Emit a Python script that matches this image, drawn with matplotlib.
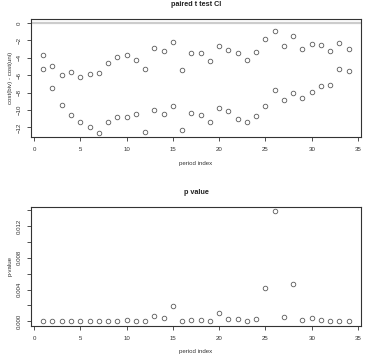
import numpy as np
import matplotlib
matplotlib.use('Agg')
from matplotlib import pyplot as plt
from matplotlib.ticker import FuncFormatter

plt.rcParams['font.family'] = ['Liberation Sans', 'DejaVu Sans']

#%% Data
period = np.arange(1, 35)
ci_upper = [-3.62, -4.99, -5.94, -5.64, -6.17, -5.90, -5.79, -4.65, -3.96, -3.62,
            -4.23, -5.33, -2.82, -3.20, -2.21, -5.41, -3.39, -3.43, -4.42, -2.59,
            -3.12, -3.47, -4.23, -3.35, -1.83, -0.88, -2.59, -1.49, -2.97, -2.44,
            -2.51, -3.16, -2.25, -2.97]
ci_lower = [-5.26, -7.43, -9.45, -10.63, -11.39, -12.00, -12.61, -11.43, -10.78, -10.86,
            -10.51, -12.53, -10.02, -10.48, -9.60, -12.30, -10.40, -10.59, -11.39, -9.79,
            -10.13, -11.01, -11.39, -10.74, -9.60, -7.70, -8.80, -8.00, -8.65, -7.96,
            -7.28, -7.16, -5.30, -5.56]
p_value = [0.0, 0.0, 0.0, 0.0, 0.0, 0.0, 0.0, 0.0, 0.00008, 0.00013,
           0.0, 0.0, 0.00067, 0.00038, 0.00193, 0.0, 0.00017, 0.00017, 0.00004, 0.00100,
           0.00030, 0.00025, 0.00008, 0.00030, 0.00420, 0.01389, 0.00050, 0.00470, 0.00013, 0.00038,
           0.00013, 0.0, 0.0, 0.0]

pt_col = '#5a5a5a'
box_col = '#333333'
fs = 4.4

def r_lim(vals):
    # R style axis range with 4% padding
    lo, hi = np.min(vals), np.max(vals)
    pad = 0.04*(hi - lo)
    return lo - pad, hi + pad

def style_axes(ax):
    for s in ax.spines.values():
        s.set_color(box_col)
        s.set_linewidth(0.8)
    ax.tick_params(direction='out', length=3, width=0.6, color=box_col,
                   labelsize=fs, labelcolor='#333333')
    ax.tick_params(axis='x', pad=4.5)
    ax.tick_params(axis='y', pad=3.5, labelrotation=90)
    for lab in ax.get_yticklabels():
        lab.set_va('center')

fig = plt.figure(figsize=(3.67, 3.57), dpi=100)
ax1 = fig.add_axes([0.0845, 0.6162, 0.899, 0.3314])
ax2 = fig.add_axes([0.0845, 0.0877, 0.899, 0.3333])

#%% Top: CI
ax1.axhline(0, color='#cccccc', lw=1.6, zorder=1)
ax1.plot(period, ci_upper, 'o', ms=3.3, mfc='none', mec=pt_col, mew=0.6, zorder=2)
ax1.plot(period, ci_lower, 'o', ms=3.3, mfc='none', mec=pt_col, mew=0.6, zorder=2)
ax1.set_xlim(*r_lim(period))
ax1.set_ylim(*r_lim(ci_upper + ci_lower + [0]))
ax1.set_xticks(np.arange(0, 36, 5))
ax1.set_yticks(np.arange(-12, 1, 2))
ax1.set_title('paired t test CI', fontsize=5.2, fontweight='bold', pad=9, color='#222222')
ax1.set_xlabel('period index', fontsize=fs, labelpad=6, color='#333333')
ax1.set_ylabel('cost(biv) - cost(uni)', fontsize=fs, labelpad=3, color='#333333')
style_axes(ax1)

#%% Bottom: p values
ax2.plot(period, p_value, 'o', ms=3.3, mfc='none', mec=pt_col, mew=0.6)
ax2.set_xlim(*r_lim(period))
ax2.set_ylim(*r_lim(p_value))
ax2.set_xticks(np.arange(0, 36, 5))
ax2.set_yticks(np.arange(0, 0.0141, 0.002))
ax2.yaxis.set_major_formatter(FuncFormatter(
    lambda v, pos: f'{v:.3f}' if round(v/0.002) % 2 == 0 else ''))
ax2.set_title('p value', fontsize=5.2, fontweight='bold', pad=9, color='#222222')
ax2.set_xlabel('period index', fontsize=fs, labelpad=6, color='#333333')
ax2.set_ylabel('p-value', fontsize=fs, labelpad=3, color='#333333')
style_axes(ax2)

plt.savefig('out.png', dpi=100)
